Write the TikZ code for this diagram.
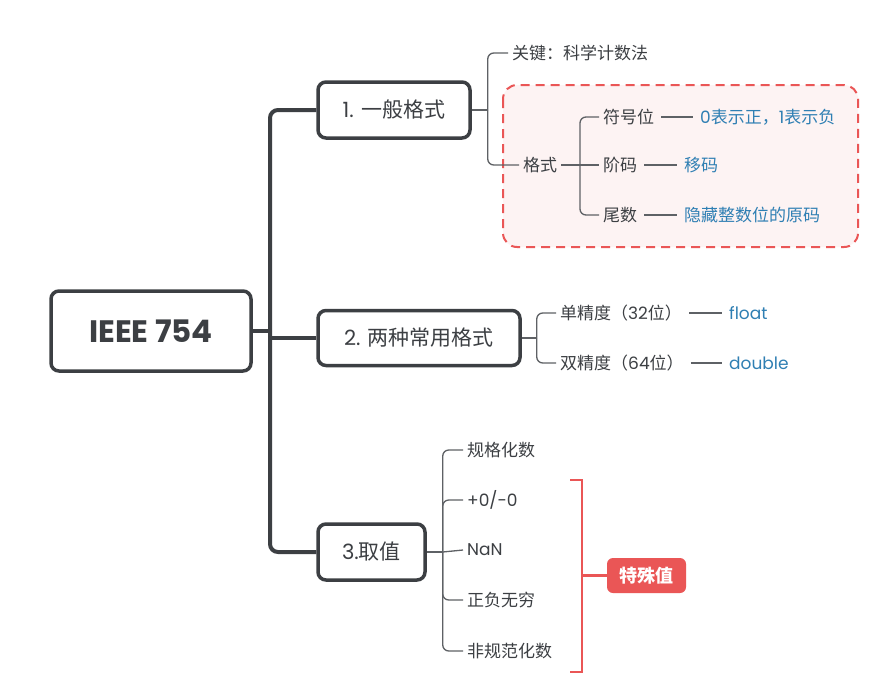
\documentclass[tikz,border=0pt]{standalone}
\usepackage{fontspec}
\setmainfont{Poppins}
\newfontfamily\cjk{Noto Sans CJK SC}
\usetikzlibrary{positioning}
\definecolor{ink}{HTML}{3C3F43}
\definecolor{twig}{HTML}{5E6165}
\definecolor{note}{HTML}{2F7FB3}
\definecolor{alert}{HTML}{EA5656}
\definecolor{blush}{HTML}{FDF3F3}

\begin{document}
\begin{tikzpicture}[x=1pt, y=-1pt,
  topic/.style={draw=ink, line width=3.5pt, rounded corners=8pt, fill=white, text=ink,
                inner sep=0pt, font=\fontsize{21}{25}\selectfont},
  leaf/.style={anchor=west, inner sep=4pt, text=ink, font=\fontsize{17}{20}\selectfont},
  val/.style={leaf, text=note},
  trunk/.style={draw=ink, line width=4pt, rounded corners=8pt},
  twigline/.style={draw=twig, line width=1.3pt, rounded corners=6pt},
  link/.style={draw=twig, line width=1.1pt, shorten <=3pt, shorten >=3pt}]
  \useasboundingbox[fill=white] (0,0) rectangle (896,691);

  % Highlight frame behind the format subtree
  \draw[draw=alert, fill=blush, line width=2pt, dash pattern=on 9pt off 6pt, rounded corners=14pt]
        (503,85) rectangle (858,247);

  % Root and main topics
  \node[topic, minimum width=200, minimum height=80, font=\fontsize{31}{36}\selectfont\bfseries]
        (root) at (151,331) {IEEE 754};
  \node[topic, minimum width=152, minimum height=56] (b1) at (394,110) {1. {\cjk 一般格式}};
  \node[topic, minimum width=202, minimum height=55] (b2) at (419,338) {2. {\cjk 两种常用格式}};
  \node[topic, minimum width=107, minimum height=56] (b3) at (371.5,552) {3.{\cjk 取值}};

  % Trunk
  \coordinate (hub) at (270,331);
  \draw[trunk] (root.east) -- (hub);
  \draw[trunk] (hub) |- (b1.west);
  \draw[trunk] (hub) |- (b3.west);
  \draw[trunk] (hub |- b2.west) -- (b2.west);

  % 1. general format
  \node[leaf] (key) at (508,53)  {\cjk 关键：科学计数法};
  \node[leaf] (fmt) at (519,165) {\cjk 格式};
  \draw[twigline] (b1.east) -- ++(16,0) coordinate (j1);
  \draw[twigline] (j1) |- (key.west);
  \draw[twigline] (j1) |- (fmt.west);

  \node[leaf] (sign) at (599,117) {\cjk 符号位};
  \node[leaf] (expo) at (599,165) {\cjk 阶码};
  \node[leaf] (mant) at (599,215) {\cjk 尾数};
  \draw[twigline] (fmt.east) -- (580,165) coordinate (j2);
  \draw[twigline] (j2) |- (sign.west);
  \draw[twigline] (j2) -- (expo.west);
  \draw[twigline] (j2) |- (mant.west);

  \node[val] (signv) at (696,117) {0{\cjk 表示正，}1{\cjk 表示负}};
  \node[val] (expov) at (680,165) {\cjk 移码};
  \node[val] (mantv) at (680,215) {\cjk 隐藏整数位的原码};
  \draw[link] (sign.east) -- (signv.west);
  \draw[link] (expo.east) -- (expov.west);
  \draw[link] (mant.east) -- (mantv.west);

  % 2. two common formats
  \node[leaf] (single) at (556,313) {{\cjk 单精度（}32{\cjk 位）}};
  \node[leaf] (double) at (556,363) {{\cjk 双精度（}64{\cjk 位）}};
  \draw[twigline] (b2.east) -- ++(15,0) coordinate (j3);
  \draw[twigline] (j3) |- (single.west);
  \draw[twigline] (j3) |- (double.west);

  \node[val] (flt) at (725,313) {float};
  \node[val] (dbl) at (725,363) {double};
  \draw[link] (single.east) -- (flt.west);
  \draw[link] (double.east) -- (dbl.west);

  % 3. values
  \node[leaf] (norm) at (463,450) {\cjk 规格化数};
  \node[leaf] (zero) at (463,500) {+0/-0};
  \node[leaf] (nan)  at (463,550) {NaN};
  \node[leaf] (inf)  at (463,600) {\cjk 正负无穷};
  \node[leaf] (sub)  at (463,651) {\cjk 非规范化数};
  \draw[twigline] (b3.east) -- ++(16,0) coordinate (j4);
  \foreach \leafname in {norm, zero, inf, sub}
    \draw[twigline] (j4) |- (\leafname.west);
  \draw[twigline] (j4) -- (nan.west);

  % Special values bracket
  \node[fill=alert, text=white, rounded corners=6pt, minimum width=79, minimum height=35,
        font=\fontsize{18}{21}\selectfont\bfseries] (spec) at (646.5,575.5) {\cjk 特殊值};
  \coordinate (brtop) at (582,480);
  \coordinate (brbot) at (582,672);
  \draw[alert, line width=2.5pt] ([xshift=-12pt]brtop) -- (brtop) -- (brbot) -- ([xshift=-12pt]brbot);
  \draw[alert, line width=2.5pt] (brtop |- spec.west) -- (spec.west);

\end{tikzpicture}
\end{document}
